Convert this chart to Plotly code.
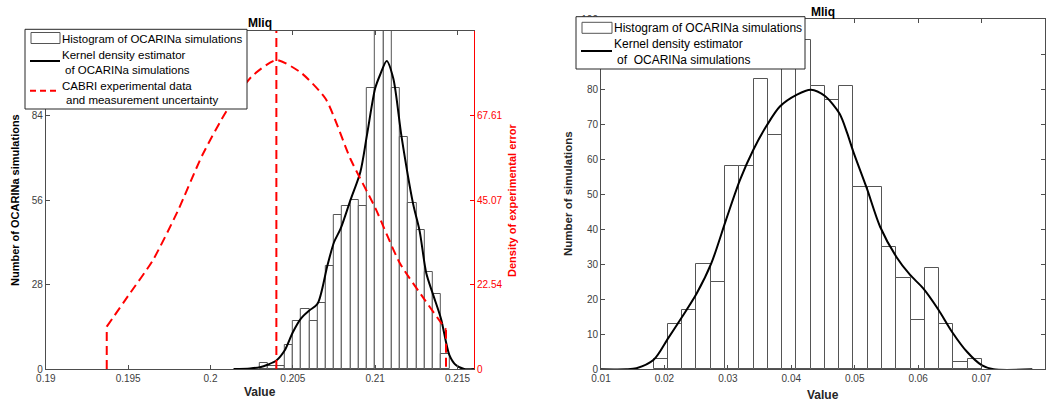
import plotly.graph_objects as go

# ---------------- Left panel data ----------------
left_bin_start = 0.2030
left_bin_width = 0.0005
left_counts = [2, 1, 1, 8, 16, 20, 16, 22, 34, 51, 54, 56, 54, 93, 118, 121, 93, 77, 55, 46, 32, 25, 5]

kde_left_x = [0.2014, 0.2024, 0.2030, 0.2035, 0.2040, 0.2045, 0.2050, 0.2055, 0.2060, 0.2065,
              0.2071, 0.2075, 0.2079, 0.2085, 0.2091, 0.2095, 0.2100, 0.2103, 0.2107, 0.2111,
              0.2116, 0.2123, 0.2127, 0.2131, 0.2135, 0.2140, 0.2145, 0.2149, 0.2154, 0.2160]
kde_left_y = [0, 0.2, 0.6, 1.5, 2.8, 6.1, 12.2, 16.8, 19.4, 21.6,
              34.3, 42, 46.5, 56, 65.3, 77.5, 93, 97.5, 102.1, 96.3,
              77, 54.8, 45.7, 31.8, 24.9, 16.6, 4.7, 1.3, 0, 0]

cabri_x = [0.1937, 0.1937, 0.1950, 0.1965, 0.1980, 0.1995, 0.2010, 0.2025, 0.2040,
           0.2055, 0.2070, 0.2085, 0.2100, 0.2115, 0.2130, 0.2143, 0.2143]
cabri_y = [0, 11.3, 19.5, 29, 42, 57, 69, 78, 82.4, 79, 72, 56, 43, 28.2, 18.5, 10.5, 0]
cabri_value = 0.2040

left_xticks = [0.19, 0.195, 0.2, 0.205, 0.21, 0.215]
left_xtick_text = ["0.19", "0.195", "0.2", "0.205", "0.21", "0.215"]
left_yticks = [0, 28, 56, 84, 112]
left_ytick_text = ["0", "28", "56", "84", ""]
right_axis_ticks = [0, 22.54, 45.07, 67.61]
right_axis_text = ["0", "22.54", "45.07", "67.61"]

# ---------------- Right panel data ----------------
right_bin_start = 0.0183
right_bin_width = 0.00225
right_counts = [3, 13, 17, 30, 25, 58, 58, 83, 67, 87, 94, 81, 77, 81, 52, 52, 35, 26, 14, 29, 13, 2, 3]

kde_right_x = [0.0100, 0.0140, 0.0156, 0.0183, 0.0206, 0.0228, 0.0251, 0.0274, 0.0297, 0.0319,
               0.0340, 0.0361, 0.0382, 0.0409, 0.0431, 0.0453, 0.0476, 0.0488, 0.0498, 0.0519,
               0.0540, 0.0566, 0.0587, 0.0608, 0.0632, 0.0653, 0.0677, 0.0700, 0.0719, 0.0780]
kde_right_y = [0, 0, 0.3, 2.7, 8.9, 15.0, 21.7, 30.3, 42.6, 54.0,
               62.6, 69.5, 75.0, 78.4, 79.8, 78.0, 73.0, 67.5, 62.0, 51.7,
               40.7, 32.0, 27.0, 23.1, 17.0, 10.8, 5.0, 1.2, 0, 0]

right_xticks = [0.01, 0.02, 0.03, 0.04, 0.05, 0.06, 0.07, 0.08]
right_xtick_text = ["0.01", "0.02", "0.03", "0.04", "0.05", "0.06", "0.07", "0.08"]

# legend texts
hist_label = "Histogram of OCARINa simulations"
kde_label_left = ["Kernel density estimator", "of OCARINa simulations"]
kde_label_right = ["Kernel density estimator", "of\u00a0 OCARINa simulations"]
cabri_label = ["CABRI experimental data", "and measurement uncertainty"]

# ---------------- Build figure ----------------
W, H = 1053, 405
FONT = "Liberation Sans, Arial, sans-serif"
AX = "#4d4d4d"
TICKFONT = dict(family=FONT, size=10, color="#404040")
RED = "#ff0000"
DASH = "9px,5px"


def px(x):
    return x / W


def py(y):
    return 1 - y / H


left_centers = [left_bin_start + (i + 0.5) * left_bin_width for i in range(len(left_counts))]
right_centers = [right_bin_start + (i + 0.5) * right_bin_width for i in range(len(right_counts))]

fig = go.Figure()

fig.add_trace(go.Bar(
    x=left_centers, y=left_counts, width=left_bin_width,
    marker=dict(color="white", line=dict(color="#555555", width=1)),
    name=hist_label, xaxis="x", yaxis="y", showlegend=False))
fig.add_trace(go.Scatter(
    x=kde_left_x, y=kde_left_y, mode="lines",
    line=dict(color="black", width=2, shape="spline", smoothing=0.8),
    name=" ".join(kde_label_left), xaxis="x", yaxis="y", showlegend=False))
# CABRI uncertainty density: vertical edges + smooth body
fig.add_trace(go.Scatter(
    x=cabri_x[1:-1], y=cabri_y[1:-1], mode="lines",
    line=dict(color=RED, width=2, dash=DASH, shape="spline", smoothing=0.6),
    name=" ".join(cabri_label), xaxis="x", yaxis="y2", showlegend=False))
fig.add_trace(go.Scatter(
    x=cabri_x[:2], y=cabri_y[:2], mode="lines",
    line=dict(color=RED, width=2, dash=DASH), showlegend=False, xaxis="x", yaxis="y2"))
fig.add_trace(go.Scatter(
    x=cabri_x[-2:], y=cabri_y[-2:], mode="lines",
    line=dict(color=RED, width=2, dash=DASH), showlegend=False, xaxis="x", yaxis="y2"))
fig.add_trace(go.Scatter(
    x=[cabri_value, cabri_value], y=[0, 90.14], mode="lines",
    line=dict(color=RED, width=2, dash=DASH),
    showlegend=False, xaxis="x", yaxis="y2"))

fig.add_trace(go.Bar(
    x=right_centers, y=right_counts, width=right_bin_width,
    marker=dict(color="white", line=dict(color="#555555", width=1)),
    name=hist_label, xaxis="x2", yaxis="y3", showlegend=False))
fig.add_trace(go.Scatter(
    x=kde_right_x, y=kde_right_y, mode="lines",
    line=dict(color="black", width=2, shape="spline", smoothing=0.8),
    name=" ".join(kde_label_right), xaxis="x2", yaxis="y3", showlegend=False))

common_ax = dict(showgrid=False, zeroline=False, ticks="inside", ticklen=4, tickcolor=AX,
                 showline=True, linecolor=AX, linewidth=1, tickfont=TICKFONT, automargin=False)

fig.update_layout(
    width=W, height=H, margin=dict(l=0, r=0, t=0, b=0, autoexpand=False),
    plot_bgcolor="white", paper_bgcolor="white",
    bargap=0, barmode="overlay", showlegend=False,
    font=dict(family=FONT),
    xaxis=dict(domain=[px(45.8), px(474)], range=[0.19, 0.216], anchor="y",
               tickvals=left_xticks, ticktext=left_xtick_text, mirror="ticks", **common_ax),
    yaxis=dict(domain=[py(369), py(31)], range=[0, 112], anchor="x",
               tickvals=left_yticks, ticktext=left_ytick_text, mirror=False, **common_ax),
    yaxis2=dict(overlaying="y", side="right", anchor="x", range=[0, 90.14],
                tickvals=right_axis_ticks, ticktext=right_axis_text,
                showgrid=False, zeroline=False, ticks="inside", ticklen=4, tickcolor=RED,
                showline=True, linecolor=RED, linewidth=1, automargin=False,
                tickfont=dict(family=FONT, size=10, color=RED)),
    xaxis2=dict(domain=[px(601), px(1045)], range=[0.01, 0.08], anchor="y3",
                tickvals=right_xticks, ticktext=right_xtick_text, mirror="ticks", **common_ax),
    yaxis3=dict(domain=[py(369.3), py(19)], range=[0, 100], anchor="x2", dtick=10,
                mirror="ticks", **common_ax),
)

# titles and axis labels
annos = [
    dict(text="<b>Mliq</b>", x=px(260), y=py(23), font=dict(size=12, color="black")),
    dict(text="<b>Mliq</b>", x=px(823), y=py(11.7), font=dict(size=12, color="black")),
    dict(text="<b>Value</b>", x=px(260), y=py(392), font=dict(size=12, color="#262626")),
    dict(text="<b>Value</b>", x=px(823), y=py(395), font=dict(size=12, color="#262626")),
    dict(text="<b>Number of OCARINa simulations</b>", x=px(15), y=py(200),
         textangle=-90, font=dict(size=11, color="black")),
    dict(text="<b>Density of experimental error</b>", x=px(512), y=py(200),
         textangle=-90, font=dict(size=11, color=RED)),
    dict(text="<b>Number of simulations</b>", x=px(568), y=py(194),
         textangle=-90, font=dict(size=11.5, color="#262626")),
]
for a in annos:
    fig.add_annotation(xref="paper", yref="paper", showarrow=False,
                       xanchor="center", yanchor="middle", **a)
    fig.layout.annotations[-1].font.family = FONT

# ---------- legends (boxes, keys and texts) ----------
def rect(x0, y0, x1, y1, line_color, fill="white", width=1):
    fig.add_shape(type="rect", xref="paper", yref="paper", layer="above",
                  x0=px(x0), x1=px(x1), y0=py(y1), y1=py(y0),
                  line=dict(color=line_color, width=width), fillcolor=fill)


def hline(x0, x1, y, color, width=2, dash="solid"):
    fig.add_shape(type="line", xref="paper", yref="paper", layer="above",
                  x0=px(x0), x1=px(x1), y0=py(y), y1=py(y),
                  line=dict(color=color, width=width, dash=dash))


def label(text, x, y, size):
    fig.add_annotation(xref="paper", yref="paper", showarrow=False,
                       xanchor="left", yanchor="middle", x=px(x), y=py(y),
                       text=text, font=dict(family=FONT, size=size, color="black"),
                       borderpad=0, borderwidth=0)


# left legend
rect(25, 29.3, 247, 109, "#262626")
rect(31, 32.5, 60, 43.5, "#555555")
hline(30, 60, 61, "black", 2)
hline(30, 60, 90.7, RED, 2, "6px,4px")
label(hist_label, 62, 39.3, 11.5)
label(kde_label_left[0], 62, 55.3, 11.5)
label(kde_label_left[1], 64.5, 70.3, 11.5)
label(cabri_label[0], 62, 85.7, 11.5)
label(cabri_label[1], 65.5, 100.5, 11.5)

# right legend
rect(576, 16.7, 805, 69, "#262626")
rect(582, 22.3, 612, 33.3, "#555555")
hline(581, 612, 51, "black", 2)
label(hist_label, 614, 28.3, 12)
label(kde_label_right[0], 614, 44, 12)
label(kde_label_right[1], 617, 60, 12)

fig.write_html(
    "out.html",
    config={"displayModeBar": False},
    post_script="document.body.style.margin='0';document.body.style.padding='0';"
                "document.body.style.overflow='hidden';",
)
